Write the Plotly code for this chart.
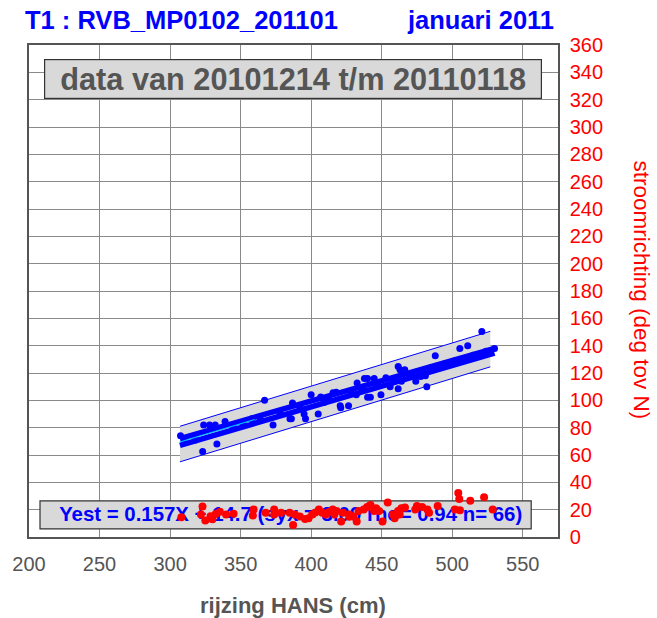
import plotly.graph_objects as go

# ---------------- data ----------------
blue_x = [307.4, 323.1, 333.2, 323.8, 328, 332, 339, 358, 367, 373, 385, 386, 386.8, 395, 396,
          405, 400, 406.8, 409, 415.5, 417.8, 420.6, 421, 426.5, 432, 432.6, 437.8, 440, 444.7,
          440, 442, 449.5, 453, 456, 461.7, 461.7, 463, 466.4, 464, 474.2, 477.7, 481, 482, 488,
          505.4, 511, 521,
          310, 318, 345, 352, 364, 378, 392, 412, 428, 436, 447, 458, 470, 485, 495, 502, 515, 524, 530]
blue_y = [74, 62.5, 68, 82, 82, 82, 84.5, 86.5, 100, 82, 86.5, 86.5, 98, 90, 86.5,
          90, 104, 102.5, 98.5, 105.5, 106, 96, 94.5, 96, 104, 112.6, 116, 116, 116,
          102.3, 102.3, 104, 116.5, 110, 108.4, 124.8, 122.3, 122.3, 114, 114, 117.4, 118, 110, 132.6,
          138, 140, 150.4,
          70, 71, 80, 82, 86, 90, 95, 101, 106, 108, 112, 115, 119, 124, 127, 129, 133, 136, 138]

red_x = [308, 323, 321.9, 325, 328.7, 332.4, 335.3, 339.7, 359.2, 358.7, 367.8, 373.8, 373.8, 378.7,
         384.8, 388.5, 387.2, 395.7, 398.2, 400.7, 405.5, 407.9, 410.4, 412.9, 415.3, 416.5, 421.3,
         422.6, 427, 433.6, 432.3, 437.3, 439.7, 442.1, 444.6, 448.2, 450.6, 454.3, 458, 459.2, 461.6,
         464, 466.5, 462.8, 473.8, 475, 478.7, 482.4, 483.6, 489.7, 501.9, 504.3, 505, 505.5, 512.8,
         522.6, 528.7,
         427, 441.3, 330, 345, 392, 403, 418, 430, 446]
red_y = [14.4, 22.3, 16.4, 12.1, 15.2, 16.9, 18.5, 16.4, 20.2, 15.7, 17.7, 20.2, 16.4, 17.7,
         17.7, 16.4, 8.8, 13.1, 13.8, 16.4, 20.2, 17.7, 16.4, 18.5, 20.2, 16.4, 11.4,
         17.7, 16.4, 19, 11.4, 20.2, 22, 23.5, 19, 19, 11.4, 25.3, 16.4, 13.8, 19,
         21, 21.5, 16.4, 20.2, 22.7, 22, 20.2, 17.7, 22.7, 20.2, 32.2, 27.8, 19.5, 26.5,
         29.1, 20.2,
         14.9, 22.7, 13, 17, 15, 18, 19, 15, 21]

band_x = [307, 527]
band_upper = [81, 150.5]
band_lower = [55, 124.5]

fit_x = [307, 530]
fit_a = [72, 138]
fit_b = [67, 134.5]
fit_mid_x = [307, 360]
fit_mid = [69.5, 86]

x_ticks = [200, 250, 300, 350, 400, 450, 500, 550]
y_ticks = list(range(0, 361, 20))

title_left = "T1 : RVB_MP0102_201101"
title_right = "januari 2011"
period_text = "data van 20101214 t/m 20110118"
fit_text = "Yest = 0.157X + 14.7 (syx = 3.09 rho= 0.94 n= 66)"
x_title = "rijzing HANS (cm)"
y_title = "stroomrichting (deg tov N)"

# ---------------- styling ----------------
FONT = "Liberation Sans, Arial, sans-serif"
BLUE = "#0000ff"
RED = "#ff0000"
GRAYTXT = "#555555"
BOXFILL = "#d9d9d9"

fig = go.Figure()

# confidence band
fig.add_trace(go.Scatter(x=band_x, y=band_lower, mode="lines",
                         line=dict(color=BLUE, width=1), hoverinfo="skip", showlegend=False))
fig.add_trace(go.Scatter(x=band_x, y=band_upper, mode="lines", fill="tonexty",
                         fillcolor=BOXFILL, line=dict(color=BLUE, width=1),
                         hoverinfo="skip", showlegend=False))

# blue points
fig.add_trace(go.Scatter(x=blue_x, y=blue_y, mode="markers",
                         marker=dict(color=BLUE, size=7), showlegend=False))
# thick fitted lines
fig.add_trace(go.Scatter(x=fit_x, y=fit_a, mode="lines",
                         line=dict(color=BLUE, width=5.5), showlegend=False))
fig.add_trace(go.Scatter(x=fit_x, y=fit_b, mode="lines",
                         line=dict(color=BLUE, width=5.5), showlegend=False))
fig.add_trace(go.Scatter(x=fit_mid_x, y=fit_mid, mode="lines",
                         line=dict(color="#00c8ff", width=1.2), showlegend=False))

# fit text (as trace so red points are drawn over it)
fig.add_trace(go.Scatter(x=[385.5], y=[15.4], mode="text", text=["<b>" + fit_text + "</b>"],
                         textfont=dict(family=FONT, size=20.4, color=BLUE),
                         textposition="middle center", hoverinfo="skip", showlegend=False))

# red points
fig.add_trace(go.Scatter(x=red_x, y=red_y, mode="markers",
                         marker=dict(color=RED, size=8), showlegend=False))

# bottom box (between grid and traces)
fig.add_shape(type="rect", xref="x", yref="y", x0=207.8, x1=556, y0=5.9, y1=26.4,
              fillcolor=BOXFILL, line=dict(color="#333333", width=1.2), layer="between")

# period box
fig.add_annotation(xref="paper", yref="paper", x=(291 - 26) / 532, y=1 - (79 - 45) / 492,
                   text="<b>" + period_text + "</b>", showarrow=False,
                   font=dict(family=FONT, size=30.7, color=GRAYTXT),
                   bgcolor=BOXFILL, bordercolor="#333333", borderwidth=1.2,
                   width=494, height=36, xanchor="center", yanchor="middle")

# titles
fig.add_annotation(xref="paper", yref="paper", x=-6 / 532, y=1 + (45 - 20) / 492,
                   text="<b>" + title_left + "</b>", showarrow=False, xanchor="left", yanchor="middle",
                   font=dict(family=FONT, size=25.5, color=BLUE))
fig.add_annotation(xref="paper", yref="paper", x=(556 - 26) / 532, y=1 + (45 - 20) / 492,
                   text="<b>" + title_right + "</b>", showarrow=False, xanchor="right", yanchor="middle",
                   font=dict(family=FONT, size=25.5, color=BLUE))
fig.add_annotation(xref="paper", yref="paper", x=(291 - 26) / 532, y=-(605 - 537) / 492,
                   text="<b>" + x_title + "</b>", showarrow=False, xanchor="center", yanchor="middle",
                   font=dict(family=FONT, size=22, color=GRAYTXT))
fig.add_annotation(xref="paper", yref="paper", x=(642 - 26) / 532, y=(537 - 290) / 492,
                   text=y_title, showarrow=False, xanchor="center", yanchor="middle", textangle=90,
                   font=dict(family=FONT, size=22.5, color=RED))

fig.update_layout(
    width=657, height=618,
    margin=dict(l=26, r=99, t=45, b=81),
    paper_bgcolor="white", plot_bgcolor="white",
    font=dict(family=FONT),
    xaxis=dict(range=[200, 575], tickvals=x_ticks, ticktext=[str(v) for v in x_ticks],
               showgrid=True, gridcolor="#8a8a8a", gridwidth=1.4,
               showline=True, linecolor="#555555", linewidth=1.5, mirror=True,
               zeroline=False, ticks="", ticklabelstandoff=8,
               tickfont=dict(family=FONT, size=20, color=GRAYTXT)),
    yaxis=dict(range=[0, 360], tickvals=y_ticks, side="right",
               showgrid=True, gridcolor="#8a8a8a", gridwidth=1.4,
               showline=True, linecolor="#555555", linewidth=1.5, mirror=True,
               zeroline=False, ticks="", ticklabelstandoff=6,
               tickfont=dict(family=FONT, size=20, color=RED)),
)

fig.write_html("out.html", config={"displayModeBar": False},
               post_script="document.body.style.margin='0';document.body.style.padding='0';")
